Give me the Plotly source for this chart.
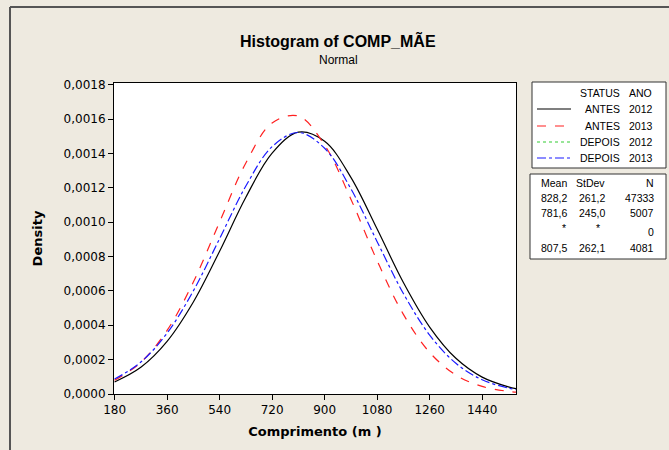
import plotly.graph_objects as go

# values (density of the fitted normal curves)
comp = [180, 270, 360, 450, 540, 630, 720, 810, 900, 990, 1080, 1170, 1260, 1350, 1440, 1530, 1556]
antes_2012 = [0.0000703, 0.0001557, 0.0003064, 0.0005355, 0.0008310, 0.0011453, 0.0014018, 0.0015237,
              0.0014708, 0.0012607, 0.0009597, 0.0006488, 0.0003895, 0.0002077, 0.0000983, 0.0000413, 0.0000315]
antes_2013 = [0.0000799, 0.0001841, 0.0003705, 0.0006516, 0.0010014, 0.0013447, 0.0015777, 0.0016175,
              0.0014489, 0.0011341, 0.0007756, 0.0004635, 0.0002420, 0.0001104, 0.0000440, 0.0000153, 0.0000110]
depois_2013 = [0.0000867, 0.0001858, 0.0003544, 0.0006004, 0.0009042, 0.0012102, 0.0014396, 0.0015220,
               0.0014302, 0.0011944, 0.0008866, 0.0005849, 0.0003429, 0.0001787, 0.0000828, 0.0000341, 0.0000258]

status = ["ANTES", "ANTES", "DEPOIS", "DEPOIS"]
ano = ["2012", "2013", "2012", "2013"]
means = ["828,2", "781,6", "*", "807,5"]
stdevs = ["261,2", "245,0", "*", "262,1"]
ns = ["47333", "5007", "0", "4081"]

colors = ["black", "#ff2020", "#33cc33", "#1a1aff"]
dashes = ["solid", "dash", "dot", "dashdot"]

W, H = 669, 450
L, R, T, B = 114, 516, 83, 394
BG = "#eeeae0"


def px(x):
    return (x - L) / (R - L)


def py(y):
    return (B - y) / (B - T)


fig = go.Figure()
series = [antes_2012, antes_2013, None, depois_2013]
for i, ys in enumerate(series):
    if ys is None:
        continue
    fig.add_trace(go.Scatter(
        x=comp, y=ys, mode="lines", line_shape="spline",
        line=dict(color=colors[i], width=1.2, dash=dashes[i]),
        showlegend=False, hoverinfo="skip",
    ))

shapes = []
ann = []
# outer frame
shapes.append(dict(type="line", xref="paper", yref="paper", x0=px(10), x1=px(10), y0=py(7), y1=py(460),
                   line=dict(color="#555555", width=2)))
shapes.append(dict(type="line", xref="paper", yref="paper", x0=px(10), x1=px(680), y0=py(7), y1=py(7),
                   line=dict(color="#555555", width=2)))

# legend box 1
shapes.append(dict(type="rect", xref="paper", yref="paper", x0=px(532), x1=px(666), y0=py(82), y1=py(168),
                   line=dict(color="#333333", width=1), fillcolor="white"))
font_s = dict(family="Liberation Sans Narrow, Liberation Sans, Arial", size=10.5, color="black")
ann.append(dict(x=px(622), y=py(93), text="STATUS", xanchor="right", showarrow=False))
ann.append(dict(x=px(627), y=py(93), text="ANO", xanchor="left", showarrow=False))
row_y = [109, 126, 142, 158]
for i in range(4):
    yy = row_y[i]
    shapes.append(dict(type="line", xref="paper", yref="paper", x0=px(537), x1=px(571), y0=py(yy), y1=py(yy),
                       line=dict(color=colors[i], width=1.2, dash=dashes[i])))
    ann.append(dict(x=px(622), y=py(yy), text=status[i], xanchor="right", showarrow=False))
    ann.append(dict(x=px(627), y=py(yy), text=ano[i], xanchor="left", showarrow=False))

# legend box 2
shapes.append(dict(type="rect", xref="paper", yref="paper", x0=px(530), x1=px(666), y0=py(174), y1=py(259),
                   line=dict(color="#333333", width=1), fillcolor="white"))
ann.append(dict(x=px(569), y=py(183), text="Mean", xanchor="right", showarrow=False))
ann.append(dict(x=px(607), y=py(183), text="StDev", xanchor="right", showarrow=False))
ann.append(dict(x=px(656), y=py(183), text="N", xanchor="right", showarrow=False))
stat_y = [198, 213, 228, 248]
for i in range(4):
    yy = stat_y[i]
    ann.append(dict(x=px(568 if means[i] == "*" else 569), y=py(yy), text=means[i], xanchor="right",
                    showarrow=False))
    ann.append(dict(x=px(602 if stdevs[i] == "*" else 607), y=py(yy), text=stdevs[i], xanchor="right",
                    showarrow=False))
    ann.append(dict(x=px(656), y=py(yy + 4 if means[i] == "*" else yy), text=ns[i], xanchor="right",
                    showarrow=False))

# titles
ann.append(dict(x=px(338), y=py(40), text="<b>Histogram of COMP_MÃE</b>", showarrow=False,
                font=dict(family="Liberation Sans", size=16, color="black")))
ann.append(dict(x=px(338), y=py(60), text="Normal", showarrow=False,
                font=dict(family="Liberation Sans", size=12, color="black")))

for a in ann:
    a.update(xref="paper", yref="paper", yanchor="middle")
    a.setdefault("font", font_s)

fig.update_layout(
    width=W, height=H,
    margin=dict(l=L, r=W - R, t=T, b=H - B),
    paper_bgcolor=BG, plot_bgcolor="white",
    separators=",.",
    shapes=shapes, annotations=ann,
    font=dict(family="DejaVu Sans", size=12, color="black"),
)
fig.update_xaxes(
    range=[178, 1556], tickvals=[180, 360, 540, 720, 900, 1080, 1260, 1440], tickformat="d",
    ticks="outside", ticklen=5, tickcolor="black", showline=True, linecolor="black", mirror=True,
    showgrid=False, zeroline=False,
    title=dict(text="<b>Comprimento (m )</b>", font=dict(family="DejaVu Sans", size=13), standoff=10),
)
fig.update_yaxes(
    range=[0, 0.00181], dtick=0.0002, tick0=0, tickformat=".4f",
    ticks="outside", ticklen=5, tickcolor="black", showline=True, linecolor="black", mirror=True,
    showgrid=False, zeroline=False,
    title=dict(text="<b>Density</b>", font=dict(family="DejaVu Sans", size=13), standoff=18),
)

fig.write_html("out.html", config={"displayModeBar": False},
               post_script="document.body.style.margin='0px';")
